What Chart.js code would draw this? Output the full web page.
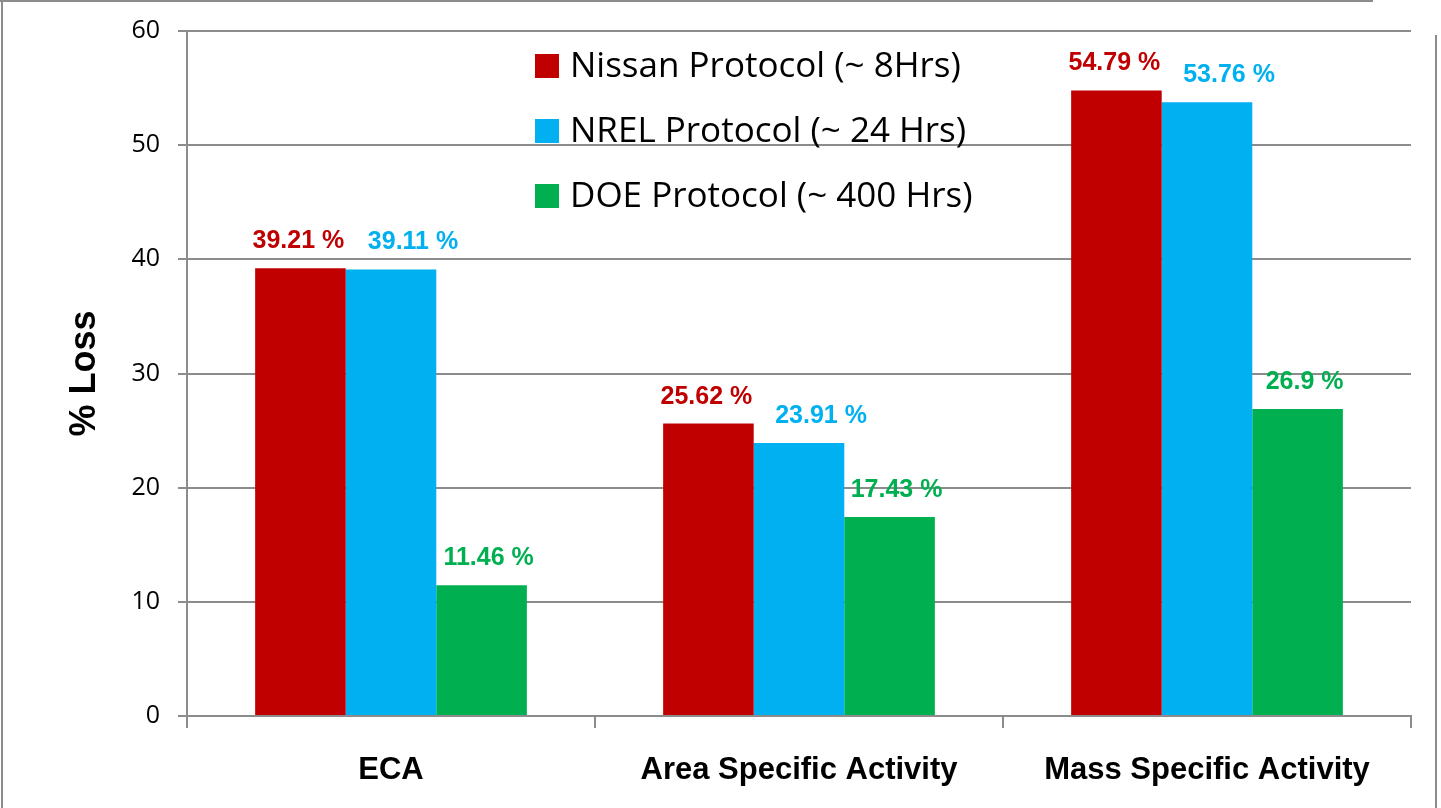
<!DOCTYPE html>
<html>
<head>
<meta charset="utf-8">
<script src="https://cdn.jsdelivr.net/npm/chart.js@4"></script>
<style>
  html, body { margin: 0; padding: 0; background: #fff; }
  #wrap { width: 1441px; height: 808px; position: relative; }
</style>
</head>
<body>
<div id="wrap"><canvas id="myChart" width="1441" height="808"></canvas></div>
<script>
// data
const categories = ['ECA', 'Area Specific Activity', 'Mass Specific Activity'];
const nissan = [39.21, 25.62, 54.79];
const nrel = [39.11, 23.91, 53.76];
const doe = [11.46, 17.43, 26.9];
const seriesNames = ['Nissan Protocol (~ 8Hrs)', 'NREL Protocol (~ 24 Hrs)', 'DOE Protocol (~ 400 Hrs)'];
const colors = ['#C00000', '#00B0F0', '#00B050'];

const gridGray = '#8c8c8c';
const fontFam = "'Open Sans', 'Liberation Sans', sans-serif";
// labels of the 2nd and 3rd series sit a bit to the right, as in the original
const labelShift = [-2, 22, 7];

// frame lines around the picture
const framePlugin = {
  id: 'frame',
  beforeDraw(chart) {
    const ctx = chart.ctx;
    ctx.save();
    ctx.strokeStyle = gridGray;
    ctx.lineWidth = 2;
    ctx.beginPath();
    ctx.moveTo(0, 1); ctx.lineTo(1373, 1);
    ctx.moveTo(2, 0); ctx.lineTo(2, 808);
    ctx.moveTo(1436, 35); ctx.lineTo(1436, 808);
    ctx.stroke();
    ctx.restore();
  }
};

// value labels above bars
const labelPlugin = {
  id: 'valueLabels',
  afterDatasetsDraw(chart) {
    const ctx = chart.ctx;
    ctx.save();
    ctx.font = "bold 25px 'Liberation Sans', sans-serif";
    ctx.textAlign = 'center';
    ctx.textBaseline = 'alphabetic';
    chart.data.datasets.forEach((ds, i) => {
      chart.getDatasetMeta(i).data.forEach((bar, j) => {
        ctx.fillStyle = colors[i];
        ctx.fillText(ds.data[j] + ' %', bar.x + labelShift[i], bar.y - 20);
      });
    });
    ctx.restore();
  }
};

// legend drawn inside the plot
const legendPlugin = {
  id: 'insideLegend',
  afterDraw(chart) {
    const ctx = chart.ctx;
    ctx.save();
    ctx.font = "35px " + fontFam;
    ctx.textBaseline = 'middle';
    seriesNames.forEach((name, i) => {
      const y = 66 + i * 65;
      ctx.fillStyle = colors[i];
      ctx.fillRect(535, y - 12, 24, 24);
      ctx.fillStyle = '#000';
      ctx.fillText(name, 570, y + 1);
    });
    ctx.restore();
  }
};

const data = {
  labels: categories,
  datasets: [nissan, nrel, doe].map((vals, i) => ({
    label: seriesNames[i],
    data: vals,
    backgroundColor: colors[i],
    borderWidth: 0,
    categoryPercentage: 0.666,
    barPercentage: 1.0
  }))
};

const config = {
  type: 'bar',
  data,
  options: {
    responsive: false,
    animation: false,
    layout: { padding: { top: 31, right: 30, left: 0, bottom: 0 } },
    plugins: {
      legend: { display: false },
      tooltip: { enabled: false }
    },
    scales: {
      x: {
        grid: { display: true, drawOnChartArea: false, color: gridGray, lineWidth: 2, tickLength: 12, offset: true },
        border: { color: gridGray, width: 2 },
        ticks: { color: '#000', font: { size: 31, weight: 'bold', family: "'Liberation Sans', sans-serif" }, padding: 24 },
        afterFit(scale) { scale.height = 92; }
      },
      y: {
        min: 0,
        max: 60,
        ticks: { stepSize: 10, color: '#000', font: { size: 25, family: fontFam }, padding: 18 },
        grid: { color: gridGray, lineWidth: 2, tickLength: 9 },
        border: { color: gridGray, width: 2 },
        title: { display: true, text: '% Loss', color: '#000', font: { size: 36, weight: 'bold', family: "'Liberation Sans', sans-serif" }, padding: { top: 63, bottom: 0 } },
        afterFit(scale) {
          scale.width = 187;
          scale.paddingTop = 0;
          scale.paddingBottom = 0;
        }
      }
    }
  },
  plugins: [framePlugin, labelPlugin, legendPlugin]
};

var myChart = new Chart(document.getElementById('myChart'), config);
</script>
</body>
</html>
